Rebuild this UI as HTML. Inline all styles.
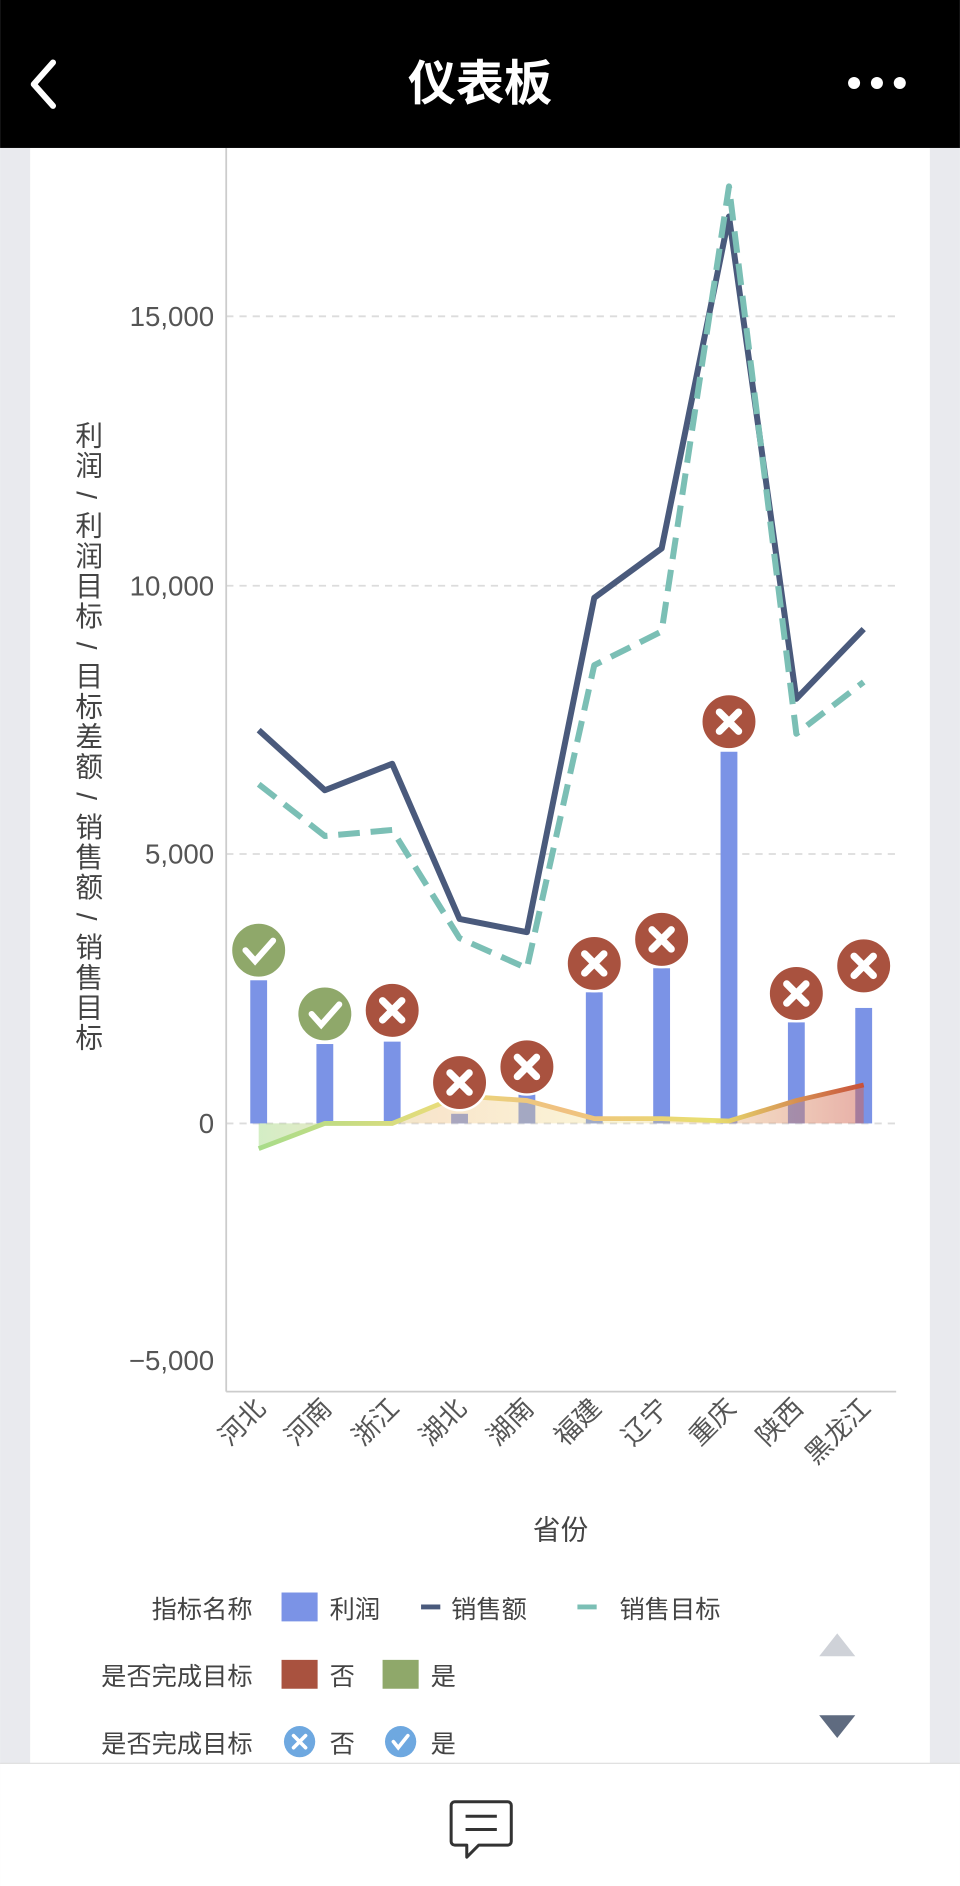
<!DOCTYPE html>
<html><head><meta charset="utf-8">
<style>
html,body{margin:0;padding:0;background:#fff;}
svg{display:block;}
text{font-family:"Liberation Sans","Noto Sans CJK SC",sans-serif;}
</style></head>
<body>
<svg width="960" height="1886" viewBox="0 0 798 1568" xmlns="http://www.w3.org/2000/svg">
<defs>
<linearGradient id="dg" x1="0" x2="1" y1="0" y2="0">
<stop offset="0" stop-color="#a8dc8a"/>
<stop offset="0.3" stop-color="#e8dc7a"/>
<stop offset="0.5" stop-color="#f0c080"/>
<stop offset="0.75" stop-color="#e8e070"/>
<stop offset="1" stop-color="#c8503a"/>
</linearGradient>
<linearGradient id="dgf" x1="0" x2="1" y1="0" y2="0">
<stop offset="0" stop-color="#a8dc8a" stop-opacity="0.5"/>
<stop offset="0.3" stop-color="#f0c080" stop-opacity="0.4"/>
<stop offset="0.6" stop-color="#f0e080" stop-opacity="0.3"/>
<stop offset="1" stop-color="#d06050" stop-opacity="0.5"/>
</linearGradient>
</defs>
<rect x="0" y="0" width="798" height="1568" fill="#e9eaee"/>
<rect x="25" y="123" width="748" height="1345" fill="#fff"/>
<rect x="0" y="0" width="798" height="123" fill="#000"/>
<polyline points="44,52 28,70 44,88" fill="none" stroke="#fff" stroke-width="5" stroke-linecap="round" stroke-linejoin="round"/>
<text x="399" y="83" text-anchor="middle" font-size="40" font-weight="bold" fill="#fff">仪表板</text>
<circle cx="710" cy="69" r="5" fill="#fff"/><circle cx="729" cy="69" r="5" fill="#fff"/><circle cx="748" cy="69" r="5" fill="#fff"/>
<g stroke="#dcdcdc" stroke-width="1.5" stroke-dasharray="6,5">
<line x1="188" x2="745" y1="263" y2="263"/>
<line x1="188" x2="745" y1="487" y2="487"/>
<line x1="188" x2="745" y1="710" y2="710"/>
<line x1="188" x2="745" y1="934" y2="934"/>
</g>
<line x1="188" x2="188" y1="123" y2="1157" stroke="#ccc" stroke-width="1.5"/>
<line x1="188" x2="745" y1="1157" y2="1157" stroke="#ccc" stroke-width="1.5"/>
<g font-size="23" fill="#555" text-anchor="end">
<text x="178" y="271">15,000</text>
<text x="178" y="495">10,000</text>
<text x="178" y="718">5,000</text>
<text x="178" y="942">0</text>
<text x="178" y="1139">−5,000</text>
</g>
<text x="72" y="350" font-size="23" fill="#444" letter-spacing="2" style="writing-mode:vertical-rl;letter-spacing:2px;">利润 / 利润目标 / 目标差额 / 销售额 / 销售目标</text>
<g fill="#7b93e6">
<rect x="208" y="815" width="14" height="119"/>
<rect x="263" y="868" width="14" height="66"/>
<rect x="319" y="866" width="14" height="68"/>
<rect x="375" y="926" width="14" height="8"/>
<rect x="431" y="910" width="14" height="24"/>
<rect x="487" y="825" width="14" height="109"/>
<rect x="543" y="805" width="14" height="129"/>
<rect x="599" y="625" width="14" height="309"/>
<rect x="655" y="850" width="14" height="84"/>
<rect x="711" y="838" width="14" height="96"/>
</g>
<polygon points="215,934 215,955 270,934 326,934 382,911 438,915 494,930 550,930 606,932 662,915 718,902 718,934" fill="url(#dgf)"/>
<polyline points="215,955 270,934 326,934 382,911 438,915 494,930 550,930 606,932 662,915 718,902" fill="none" stroke="url(#dg)" stroke-width="4"/>
<polyline points="215,607 270,657 326,635 382,764 438,775 494,497 550,456 606,180 662,581 718,523" fill="none" stroke="#4a5a7c" stroke-width="5" stroke-linejoin="round"/>
<polyline points="215,652 270,695 326,690 382,780 438,805 494,553 550,525 606,155 662,610 718,567" fill="none" stroke="#7bbfb5" stroke-width="5" stroke-dasharray="18,9" stroke-linejoin="round"/>
<g stroke="#fff" stroke-width="2">
<circle cx="215" cy="790" r="23" fill="#8fa86a"/>
<circle cx="270" cy="843" r="23" fill="#8fa86a"/>
<circle cx="326" cy="840" r="23" fill="#a9523f"/>
<circle cx="382" cy="900" r="23" fill="#a9523f"/>
<circle cx="438" cy="887" r="23" fill="#a9523f"/>
<circle cx="494" cy="801" r="23" fill="#a9523f"/>
<circle cx="550" cy="781" r="23" fill="#a9523f"/>
<circle cx="606" cy="600" r="23" fill="#a9523f"/>
<circle cx="662" cy="826" r="23" fill="#a9523f"/>
<circle cx="718" cy="803" r="23" fill="#a9523f"/>
</g>
<g fill="none" stroke="#fff" stroke-width="5" stroke-linecap="round">
<polyline points="204,790 212,799 227,782"/>
<polyline points="259,843 267,852 282,835"/>
</g>
<g stroke="#fff" stroke-width="6" stroke-linecap="round">
<path d="M318,832 l16,16 M334,832 l-16,16"/>
<path d="M374,892 l16,16 M390,892 l-16,16"/>
<path d="M430,879 l16,16 M446,879 l-16,16"/>
<path d="M486,793 l16,16 M502,793 l-16,16"/>
<path d="M542,773 l16,16 M558,773 l-16,16"/>
<path d="M598,592 l16,16 M614,592 l-16,16"/>
<path d="M654,818 l16,16 M670,818 l-16,16"/>
<path d="M710,795 l16,16 M726,795 l-16,16"/>
</g>
<g font-size="22" fill="#555" text-anchor="end">
<text transform="translate(222,1172) rotate(-45)">河北</text>
<text transform="translate(277,1172) rotate(-45)">河南</text>
<text transform="translate(333,1172) rotate(-45)">浙江</text>
<text transform="translate(389,1172) rotate(-45)">湖北</text>
<text transform="translate(445,1172) rotate(-45)">湖南</text>
<text transform="translate(501,1172) rotate(-45)">福建</text>
<text transform="translate(557,1172) rotate(-45)">辽宁</text>
<text transform="translate(613,1172) rotate(-45)">重庆</text>
<text transform="translate(669,1172) rotate(-45)">陕西</text>
<text transform="translate(725,1172) rotate(-45)">黑龙江</text>
</g>
<text x="466" y="1280" font-size="23" fill="#444" text-anchor="middle">省份</text>
<g font-size="21" fill="#444">
<text x="210" y="1345" text-anchor="end">指标名称</text>
<rect x="234" y="1324" width="30" height="24" fill="#7b93e6"/>
<text x="274" y="1345">利润</text>
<line x1="350" x2="366" y1="1336" y2="1336" stroke="#4a5a7c" stroke-width="4"/>
<text x="375" y="1345">销售额</text>
<line x1="480" x2="496" y1="1336" y2="1336" stroke="#7bbfb5" stroke-width="4"/>
<text x="515" y="1345">销售目标</text>
<text x="210" y="1401" text-anchor="end">是否完成目标</text>
<rect x="234" y="1380" width="30" height="24" fill="#a9523f"/>
<text x="274" y="1401">否</text>
<rect x="318" y="1380" width="30" height="24" fill="#8fa86a"/>
<text x="358" y="1401">是</text>
<text x="210" y="1457" text-anchor="end">是否完成目标</text>
<circle cx="249" cy="1448" r="13" fill="#6ea8e0"/>
<path d="M244,1443 l10,10 M254,1443 l-10,10" stroke="#fff" stroke-width="3" stroke-linecap="round"/>
<text x="274" y="1457">否</text>
<circle cx="333" cy="1448" r="13" fill="#6ea8e0"/>
<polyline points="327,1448 331,1453 339,1443" fill="none" stroke="#fff" stroke-width="3" stroke-linecap="round"/>
<text x="358" y="1457">是</text>
</g>
<polygon points="696,1358 681,1377 711,1377" fill="#cfd2d8"/>
<polygon points="681,1426 711,1426 696,1445" fill="#5f6b80"/>
<rect x="0" y="1466" width="798" height="102" fill="#fff"/>
<line x1="0" x2="798" y1="1466" y2="1466" stroke="#ddd" stroke-width="1"/>
<path d="M378,1498 h44 a3,3 0 0 1 3,3 v30 a3,3 0 0 1 -3,3 h-24 l-10,10 v-10 h-10 a3,3 0 0 1 -3,-3 v-30 a3,3 0 0 1 3,-3 z" fill="none" stroke="#333" stroke-width="2.5" stroke-linejoin="round"/>
<line x1="387" x2="413" y1="1510" y2="1510" stroke="#333" stroke-width="2.5"/>
<line x1="387" x2="413" y1="1521" y2="1521" stroke="#333" stroke-width="2.5"/>
</svg>
</body></html>
